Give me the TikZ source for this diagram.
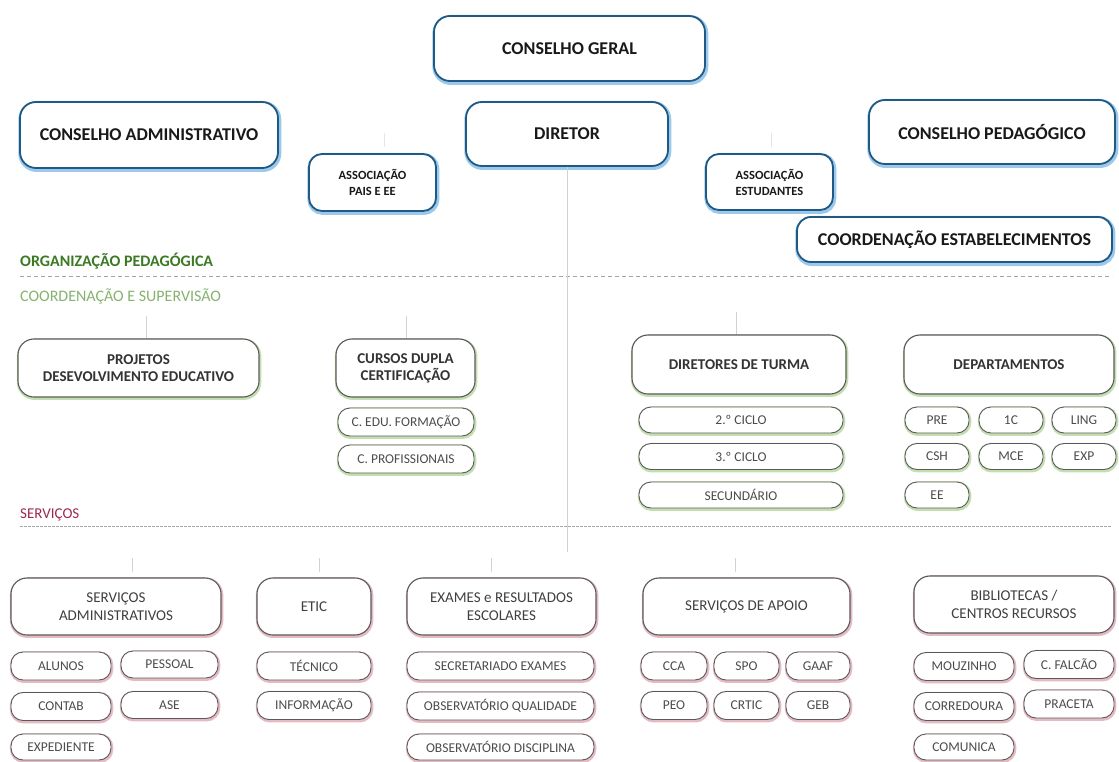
\documentclass[tikz,border=0pt]{standalone}
\usepackage{fontspec}
\setmainfont{Carlito}
\usepackage{tikz}

\definecolor{topblue}{HTML}{1F5A85}
\definecolor{glowblue}{HTML}{9CC8EC}
\definecolor{boxgray}{HTML}{5A5A5A}
\definecolor{glowgreen}{HTML}{C3DFB0}
\definecolor{glowred}{HTML}{E6BAC2}
\definecolor{orggreen}{HTML}{3B7A23}
\definecolor{coordgreen}{HTML}{86B36E}
\definecolor{servred}{HTML}{9E2A4E}

\begin{document}
\begin{tikzpicture}[x=1pt, y=-1pt,
  wh/.style 2 args={minimum width=#1, minimum height=#2},
  box/.style={draw, fill=white, align=center, inner sep=1pt},
  topbox/.style={box, draw=topblue, line width=1.8pt, rounded corners=16pt, text=black!90,
    preaction={draw=glowblue, line width=5pt, transform canvas={xshift=.8pt, yshift=-1.5pt}},
    font=\fontsize{18}{21}\selectfont\bfseries},
  assoc/.style={topbox, rounded corners=13pt, font=\fontsize{12.5}{16}\selectfont\bfseries},
  orgbox/.style={box, draw=boxgray, line width=1.1pt, rounded corners=16pt, text=black!80,
    preaction={draw=glowgreen, line width=3.5pt, transform canvas={xshift=.6pt, yshift=-1.2pt}},
    font=\fontsize{15}{17}\selectfont\bfseries},
  orgpill/.style={orgbox, rounded corners=12pt, line width=.9pt, text=black!70,
    font=\fontsize{13.5}{15}\selectfont},
  srvbox/.style={box, draw=boxgray, line width=1.1pt, rounded corners=16pt, text=black!75,
    preaction={draw=glowred, line width=3.5pt, transform canvas={xshift=.6pt, yshift=-1.2pt}},
    font=\fontsize{15}{18}\selectfont},
  srvpill/.style={srvbox, rounded corners=12pt, line width=.9pt, text=black!70,
    font=\fontsize{13.5}{15}\selectfont},
  sepline/.style={draw=gray!70, line width=.8pt, dash pattern=on 4pt off 3pt},
  stub/.style={draw=gray!35, line width=.7pt}]

  \fill[white] (0,0) rectangle (1119,762);
  \useasboundingbox (0,0) rectangle (1119,762);

  % Governing bodies
  \node[topbox, wh={271}{65}] (cg) at (569.5,48.5) {CONSELHO GERAL};
  \node[topbox, wh={258}{66}] (cadm) at (149,135) {CONSELHO ADMINISTRATIVO};
  \node[topbox, wh={202}{64}] (dir) at (567,134) {DIRETOR};
  \node[topbox, wh={246}{64}] (cped) at (992,132) {CONSELHO PEDAGÓGICO};
  \node[assoc, wh={127}{57}] (apais) at (372.5,182.5) {ASSOCIAÇÃO\\PAIS E EE};
  \node[assoc, wh={127}{56}] (aest) at (769.5,182) {ASSOCIAÇÃO\\ESTUDANTES};
  \node[topbox, wh={315}{45}, rounded corners=14pt] (cest) at (954.5,239.5) {COORDENAÇÃO ESTABELECIMENTOS};

  % Section headings and separators
  \node[anchor=west, inner sep=0, text=orggreen, font=\fontsize{16}{18}\selectfont\bfseries] (orgl) at (20,261) {ORGANIZAÇÃO PEDAGÓGICA};
  \node[anchor=west, inner sep=0, text=coordgreen, font=\fontsize{16}{18}\selectfont] (coordl) at (20,296) {COORDENAÇÃO E SUPERVISÃO};
  \node[anchor=west, inner sep=0, text=servred, font=\fontsize{15}{18}\selectfont] (servl) at (20,515) {SERVIÇOS};
  \draw[sepline] (20,276) -- (1112,276);
  \draw[sepline, dash pattern=on 2.5pt off 1.5pt] (20,526) -- (1112,526);

  % Faint spine under the director
  \coordinate (spine) at (567,552);
  \draw[stub] (dir) -- (spine);
  \coordinate (ta) at (384,133);
  \coordinate (tb) at (771,133);
  \draw[stub, draw=gray!20] (ta) -- ++(0,14);
  \draw[stub, draw=gray!20] (tb) -- ++(0,14);

  % Pedagogical organisation
  \node[orgbox, wh={241}{58}] (proj) at (138.5,368) {PROJETOS\\DESEVOLVIMENTO EDUCATIVO};
  \node[orgbox, wh={139}{58}] (cdc) at (405.5,368) {CURSOS DUPLA\\CERTIFICAÇÃO};
  \node[orgpill, wh={136}{28}] (cef) at (406,422) {C. EDU. FORMAÇÃO};
  \node[orgpill, wh={136}{28}] (cpr) at (406,459) {C. PROFISSIONAIS};

  \node[orgbox, wh={214}{59}] (dt) at (739,364.5) {DIRETORES DE TURMA};
  \node[orgpill, wh={204}{26}] (c2) at (741,420) {2.º CICLO};
  \node[orgpill, wh={204}{26}] (c3) at (741,456.5) {3.º CICLO};
  \node[orgpill, wh={204}{26}] (sec) at (741,495) {SECUNDÁRIO};

  \node[orgbox, wh={210}{59}] (dep) at (1009,364.5) {DEPARTAMENTOS};
  \node[orgpill, wh={64}{26}] (pre) at (937,420) {PRE};
  \node[orgpill, wh={64}{26}] (c1) at (1011,420) {1C};
  \node[orgpill, wh={64}{26}] (ling) at (1084,420) {LING};
  \node[orgpill, wh={64}{26}] (csh) at (937,456.5) {CSH};
  \node[orgpill, wh={64}{26}] (mce) at (1011,456.5) {MCE};
  \node[orgpill, wh={64}{26}] (exp) at (1084,456.5) {EXP};
  \node[orgpill, wh={64}{26}] (ee) at (937,495) {EE};

  \coordinate (t1) at (146,316);
  \coordinate (t2) at (406,316);
  \coordinate (t3) at (736,312);
  \draw[stub] (t1) -- (t1 |- proj.north);
  \draw[stub] (t2) -- (t2 |- cdc.north);
  \draw[stub] (t3) -- (t3 |- dt.north);

  % Services
  \node[srvbox, wh={210}{57}] (sadm) at (116,606.5) {SERVIÇOS\\ADMINISTRATIVOS};
  \node[srvpill, wh={100}{28}] (alunos) at (61,666) {ALUNOS};
  \node[srvpill, wh={97}{27}] (pessoal) at (169.5,664.5) {PESSOAL};
  \node[srvpill, wh={100}{28}] (contab) at (61,706.5) {CONTAB};
  \node[srvpill, wh={97}{27}] (ase) at (169.5,705) {ASE};
  \node[srvpill, wh={100}{26}] (exped) at (61,747) {EXPEDIENTE};

  \node[srvbox, wh={114}{57}] (etic) at (314,606.5) {ETIC};
  \node[srvpill, wh={114}{28}] (tec) at (314,666) {TÉCNICO};
  \node[srvpill, wh={114}{28}] (info) at (314,705.5) {INFORMAÇÃO};

  \node[srvbox, wh={189}{57}] (exam) at (501.5,606.5) {EXAMES e RESULTADOS\\ESCOLARES};
  \node[srvpill, wh={187}{28}] (secex) at (500.5,666) {SECRETARIADO EXAMES};
  \node[srvpill, wh={187}{28}] (obsq) at (500.5,706) {OBSERVATÓRIO QUALIDADE};
  \node[srvpill, wh={187}{26}] (obsd) at (500.5,747) {OBSERVATÓRIO DISCIPLINA};

  \node[srvbox, wh={207}{57}] (sapo) at (746.5,606.5) {SERVIÇOS DE APOIO};
  \node[srvpill, wh={66}{28}] (cca) at (674,666) {CCA};
  \node[srvpill, wh={65}{28}] (spo) at (746.5,666) {SPO};
  \node[srvpill, wh={64}{28}] (gaaf) at (818,666) {GAAF};
  \node[srvpill, wh={66}{28}] (peo) at (674,705.5) {PEO};
  \node[srvpill, wh={65}{28}] (crtic) at (746.5,705.5) {CRTIC};
  \node[srvpill, wh={64}{28}] (geb) at (818,705.5) {GEB};

  \node[srvbox, wh={200}{57}] (bib) at (1014,604.5) {BIBLIOTECAS /\\CENTROS RECURSOS};
  \node[srvpill, wh={100}{28}] (mouz) at (964,666.5) {MOUZINHO};
  \node[srvpill, wh={90}{28}] (cfal) at (1069,664.5) {C. FALCÃO};
  \node[srvpill, wh={100}{28}] (corr) at (964,706.5) {CORREDOURA};
  \node[srvpill, wh={90}{28}] (prac) at (1069,704) {PRACETA};
  \node[srvpill, wh={100}{26}] (comu) at (964,747) {COMUNICA};

  \coordinate (s1) at (132,558);
  \coordinate (s2) at (319,558);
  \coordinate (s3) at (491,558);
  \coordinate (s4) at (735,558);
  \draw[stub] (s1) -- ++(0,14);
  \draw[stub] (s2) -- ++(0,14);
  \draw[stub] (s3) -- ++(0,14);
  \draw[stub] (s4) -- ++(0,14);
\end{tikzpicture}
\end{document}
